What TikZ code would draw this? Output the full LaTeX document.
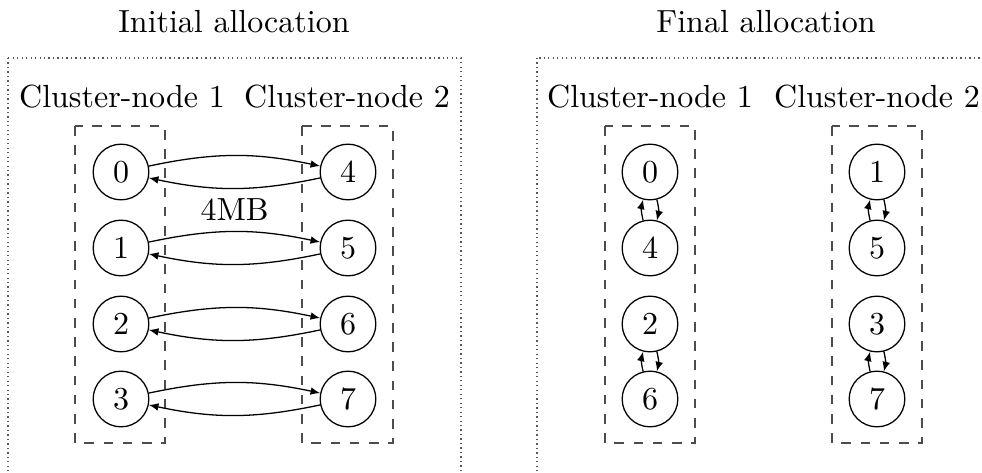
\documentclass[tikz,border=0pt]{standalone}
\usetikzlibrary{arrows.meta}
\begin{document}
\begin{tikzpicture}[x=0.3125pt,y=-0.3125pt,
  proc/.style={circle,draw,minimum size=17.4pt,inner sep=0pt},
  panel/.style={draw=black!65,densely dotted,line width=0.4pt},
  group/.style={draw=black!70,dashed,line width=0.4pt},
  msg/.style={-{Latex[length=3pt,width=2.4pt]},line width=0.4pt},
  lbl/.style={anchor=base}]
\useasboundingbox (0,0) rectangle (982,473);
\clip (0,0) rectangle (982,473);

% outer panels
\draw[panel] (8,58) rectangle (461,495);
\draw[panel] (537,58) rectangle (1000,495);

% titles
\node[lbl] (t1) at (234,33) {Initial allocation};
\node[lbl] (t2) at (766,33) {Final allocation};

% cluster-node captions
\node[lbl] (c11) at (122,108) {Cluster-node 1};
\node[lbl] (c12) at (347,108) {Cluster-node 2};
\node[lbl] (c21) at (650,108) {Cluster-node 1};
\node[lbl] (c22) at (877,108) {Cluster-node 2};

% cluster-node frames
\draw[group] (75,126) rectangle (165,443);
\draw[group] (302,126) rectangle (393,443);
\draw[group] (605,126) rectangle (695,443);
\draw[group] (832,126) rectangle (922,443);

% initial allocation
\node[proc] (a0) at (121,172) {0};
\node[proc] (a1) at (121,248) {1};
\node[proc] (a2) at (121,324) {2};
\node[proc] (a3) at (121,399) {3};
\node[proc] (a4) at (348,172) {4};
\node[proc] (a5) at (348,248) {5};
\node[proc] (a6) at (348,324) {6};
\node[proc] (a7) at (348,399) {7};

\draw[msg] (a0) to[bend left=12] (a4);
\draw[msg] (a4) to[bend left=12] (a0);
\draw[msg] (a1) to[bend left=12] node[midway,above] {4MB} (a5);
\draw[msg] (a5) to[bend left=12] (a1);
\draw[msg] (a2) to[bend left=12] (a6);
\draw[msg] (a6) to[bend left=12] (a2);
\draw[msg] (a3) to[bend left=12] (a7);
\draw[msg] (a7) to[bend left=12] (a3);

% final allocation
\node[proc] (b0) at (650,172) {0};
\node[proc] (b4) at (650,248) {4};
\node[proc] (b2) at (650,324) {2};
\node[proc] (b6) at (650,399) {6};
\node[proc] (b1) at (877,172) {1};
\node[proc] (b5) at (877,248) {5};
\node[proc] (b3) at (877,324) {3};
\node[proc] (b7) at (877,399) {7};

\draw[msg] (b0) to[bend left=14] (b4);
\draw[msg] (b4) to[bend left=14] (b0);
\draw[msg] (b2) to[bend left=14] (b6);
\draw[msg] (b6) to[bend left=14] (b2);
\draw[msg] (b1) to[bend left=14] (b5);
\draw[msg] (b5) to[bend left=14] (b1);
\draw[msg] (b3) to[bend left=14] (b7);
\draw[msg] (b7) to[bend left=14] (b3);
\end{tikzpicture}
\end{document}
